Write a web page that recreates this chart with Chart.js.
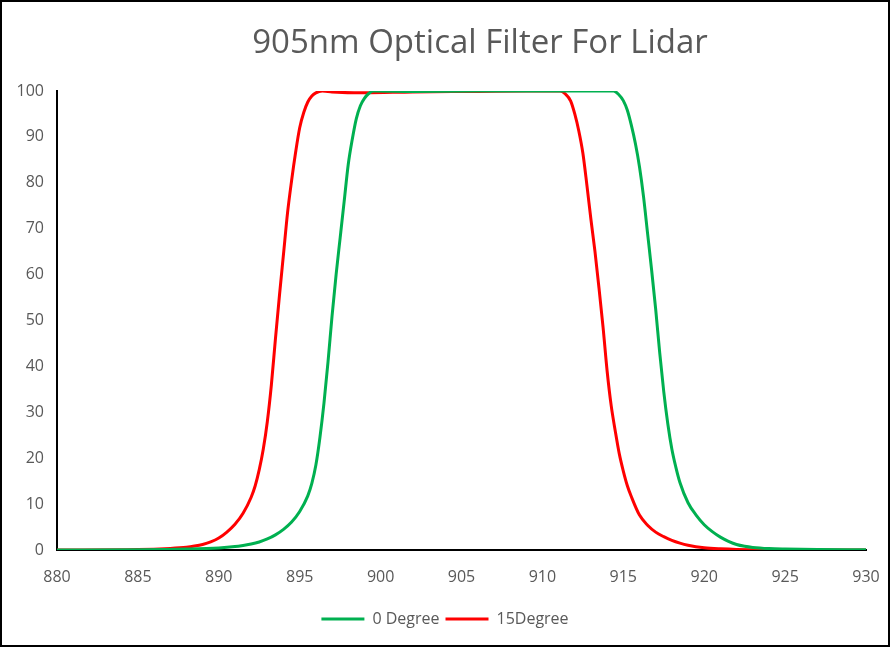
<!DOCTYPE html>
<html>
<head>
<meta charset="utf-8">
<script src="https://cdn.jsdelivr.net/npm/chart.js@4.4.1/dist/chart.umd.min.js"></script>
<style>
  html, body { margin: 0; padding: 0; background: #fff; }
</style>
</head>
<body>
<canvas id="filterChart" width="892" height="649"></canvas>
<script>
"use strict";

var chartTitle = '905nm Optical Filter For Lidar';
var seriesNames = ['0 Degree', '15Degree'];
var seriesColors = ['#00B050', '#FF0000'];

// wavelength (nm) / transmission (%)
var wl0 = [880, 885, 888, 890, 891, 891.5, 892, 892.5, 893, 893.5, 894, 894.5, 895, 895.5, 895.75,
  896, 896.25, 896.5, 896.75, 897, 897.25, 897.5, 897.75, 898, 898.25, 898.5, 898.75, 899, 899.25, 899.55,
  902, 906, 910, 914.4,
  914.7, 915, 915.25, 915.5, 915.75, 916, 916.25, 916.5, 916.75, 917, 917.25, 917.5, 917.75, 918, 918.25,
  918.5, 919, 919.5, 920, 920.5, 921, 921.5, 922, 922.5, 923, 924, 925, 927, 930];
var t0 = [0, 0.05, 0.2, 0.45, 0.75, 1.0, 1.3, 1.75, 2.4, 3.3, 4.5, 6.1, 8.4, 11.8, 14.5,
  18.5, 24.5, 32, 41, 51, 60, 68, 76, 84, 89.5, 94, 96.8, 98.4, 99.4, 100,
  99.9, 100, 100, 100,
  99.3, 97.9, 95.8, 92.5, 88.5, 83.5, 77, 69, 61, 52.5, 43, 34.5, 27.5, 22, 18,
  14.7, 10.3, 7.6, 5.5, 4.0, 2.8, 1.9, 1.2, 0.8, 0.55, 0.3, 0.2, 0.1, 0.05];

var wl15 = [880, 885, 887, 888, 888.5, 889, 889.5, 890, 890.5, 891, 891.5, 892, 892.25, 892.5, 892.75,
  893, 893.25, 893.5, 893.75, 894, 894.25, 894.5, 894.75, 895, 895.25, 895.5, 895.75, 896, 896.4,
  897, 899, 902, 906, 909, 911.1,
  911.4, 911.75, 912, 912.25, 912.5, 912.75, 913, 913.25, 913.5, 913.75, 914, 914.25, 914.5, 914.75,
  915, 915.25, 915.5, 916, 916.5, 917, 917.5, 918, 918.5, 919, 920, 921, 922, 925, 930];
var t15 = [0, 0.1, 0.35, 0.6, 0.85, 1.2, 1.75, 2.6, 3.9, 5.6, 8.0, 11.5, 14.0, 17.5, 22,
  28, 36, 46, 55.5, 64.5, 73.5, 80.5, 86.7, 92, 95.3, 97.6, 98.9, 99.6, 100,
  99.8, 99.6, 99.8, 99.9, 100, 100,
  99.4, 97.8, 95, 91.3, 86.5, 79.5, 72, 65, 57, 48.5, 39, 31.5, 26, 21,
  17.2, 14, 11.6, 7.6, 5.4, 3.9, 2.9, 2.1, 1.5, 1.05, 0.5, 0.25, 0.12, 0.05, 0];

var xMin = 880, xMax = 930, xStep = 5;
var yMin = 0, yMax = 100, yStep = 10;

function toPoints(xs, ys) {
  return xs.map(function (x, i) { return { x: x, y: ys[i] }; });
}

var textColor = '#595959';
var fontFamily = '"Open Sans", "Noto Sans", sans-serif';

var frameAndTitle = {
  id: 'frameAndTitle',
  afterLayout: function (chart) {
    // legend sits a bit right of centre in the original
    chart.legend.left += 12;
    chart.legend.right += 12;
  },
  afterDraw: function (chart) {
    var ctx = chart.ctx;
    ctx.save();
    ctx.fillStyle = textColor;
    ctx.font = '33px ' + fontFamily;
    ctx.textAlign = 'center';
    ctx.textBaseline = 'alphabetic';
    ctx.fillText(chartTitle, 480, 53);
    ctx.strokeStyle = '#000';
    ctx.lineWidth = 2;
    ctx.strokeRect(1, 1, 888, 645);
    ctx.restore();
  }
};

var ctx = document.getElementById('filterChart').getContext('2d');
var filterChart = new Chart(ctx, {
  type: 'scatter',
  data: {
    datasets: [{
      label: seriesNames[0],
      data: toPoints(wl0, t0),
      borderColor: seriesColors[0],
      backgroundColor: seriesColors[0],
      borderWidth: 3,
      showLine: true,
      pointRadius: 0,
      cubicInterpolationMode: 'monotone'
    }, {
      label: seriesNames[1],
      data: toPoints(wl15, t15),
      borderColor: seriesColors[1],
      backgroundColor: seriesColors[1],
      borderWidth: 3,
      showLine: true,
      pointRadius: 0,
      cubicInterpolationMode: 'monotone'
    }]
  },
  options: {
    responsive: false,
    animation: { duration: 0 },
    layout: { padding: { top: 91, right: 26, bottom: 12, left: 0 } },
    plugins: {
      title: { display: false },
      tooltip: { enabled: false },
      legend: {
        position: 'bottom',
        labels: {
          color: textColor,
          font: { family: fontFamily, size: 16 },
          boxWidth: 43,
          boxHeight: 3,
          padding: 6,
          generateLabels: function (chart) {
            return Chart.defaults.plugins.legend.labels.generateLabels(chart).map(function (item) {
              item.lineWidth = 0;
              item.fillStyle = item.strokeStyle;
              return item;
            });
          }
        }
      }
    },
    scales: {
      x: {
        type: 'linear',
        min: xMin,
        max: xMax,
        ticks: { stepSize: xStep, color: textColor, font: { family: fontFamily, size: 16 }, padding: 18 },
        grid: { drawOnChartArea: false, drawTicks: false },
        border: { display: true, color: '#000', width: 2 },
        afterFit: function (scale) {
          scale.height = 55;
          scale.paddingLeft = 0;
          scale.paddingRight = 0;
        }
      },
      y: {
        min: yMin,
        max: yMax,
        ticks: { stepSize: yStep, color: textColor, font: { family: fontFamily, size: 16 }, padding: 13 },
        grid: { drawOnChartArea: false, drawTicks: false },
        border: { display: true, color: '#000', width: 2 },
        afterFit: function (scale) { scale.width = 57; }
      }
    }
  },
  plugins: [frameAndTitle]
});
</script>
</body>
</html>
